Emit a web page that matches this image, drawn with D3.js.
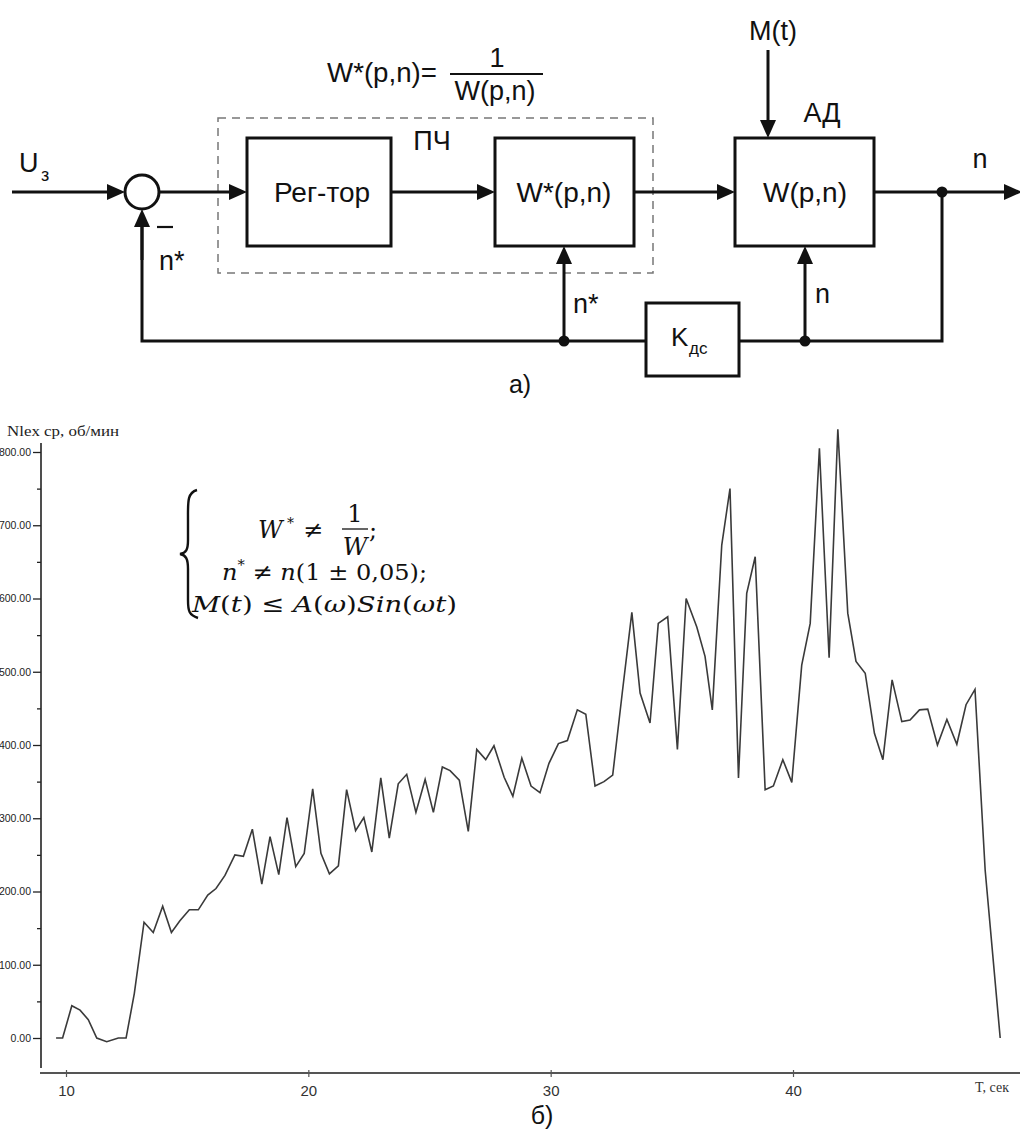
<!DOCTYPE html>
<html>
<head>
<meta charset="utf-8">
<script src="https://cdn.jsdelivr.net/npm/d3@7"></script>
<style>
body { margin: 0; background: #fff; }
svg { display: block; }
.blk text { font-family: "Liberation Sans", Arial, sans-serif; fill: #111; }
.ax text { font-family: "Liberation Sans", Arial, sans-serif; }
</style>
</head>
<body>
<script>
// Chart data: time (s) and mean speed (rpm)
var timeSec = [9.59, 9.86, 10.24, 10.58, 10.92, 11.27, 11.68, 12.16, 12.48, 12.82,
  13.22, 13.60, 13.99, 14.35, 14.70, 15.09, 15.46, 15.85, 16.19, 16.56,
  16.97, 17.32, 17.69, 18.08, 18.42, 18.78, 19.12, 19.48, 19.83, 20.18,
  20.52, 20.87, 21.24, 21.58, 21.95, 22.29, 22.62, 22.99, 23.34, 23.71,
  24.06, 24.44, 24.82, 25.16, 25.53, 25.85, 26.23, 26.60, 26.95, 27.32,
  27.66, 28.08, 28.44, 28.81, 29.19, 29.56, 29.93, 30.32, 30.69, 31.10,
  31.45, 31.83, 32.20, 32.56, 32.95, 33.35, 33.69, 34.10, 34.44, 34.83,
  35.23, 35.59, 36.03, 36.37, 36.67, 37.06, 37.40, 37.75, 38.09, 38.44,
  38.85, 39.19, 39.58, 39.95, 40.36, 40.71, 41.09, 41.49, 41.85, 42.26,
  42.60, 42.98, 43.36, 43.71, 44.09, 44.49, 44.83, 45.22, 45.56, 45.96,
  46.35, 46.76, 47.14, 47.51, 47.93, 48.55];

var speedRpm = [0, 0, 44, 38, 25, 0, -5, 0, 0, 61,
  158, 144, 180, 144, 160, 175, 175, 195, 204, 222,
  250, 248, 285, 210, 275, 223, 301, 234, 252, 340,
  252, 224, 235, 339, 283, 301, 254, 355, 273, 347,
  360, 308, 353, 308, 370, 365, 352, 282, 394, 380,
  399, 356, 330, 382, 344, 335, 375, 402, 406, 448,
  442, 344, 350, 359, 470, 581, 471, 430, 566, 575,
  394, 600, 561, 521, 448, 673, 750, 355, 607, 657,
  339, 344, 380, 349, 509, 566, 805, 519, 831, 580,
  514, 498, 416, 380, 489, 432, 434, 448, 449, 400,
  435, 401, 455, 476, 229, 0];

var yTicks = [0, 100, 200, 300, 400, 500, 600, 700, 800];
var yMinorTicks = [50, 150, 250, 350, 450, 550, 650, 750];
var xTicks = [10, 20, 30, 40];

var svg = d3.select("body").append("svg")
    .attr("width", 1020)
    .attr("height", 1129);

var ink = "#111";

//---------------- block diagram (a) ----------------
var dg = svg.append("g").attr("class", "blk");

function arrow(x1, y1, x2, y2) {
  var dx = x2 - x1, dy = y2 - y1, len = Math.sqrt(dx * dx + dy * dy);
  var ux = dx / len, uy = dy / len, L = 18, H = 8;
  var bx = x2 - ux * L, by = y2 - uy * L;
  dg.append("line")
    .attr("x1", x1).attr("y1", y1).attr("x2", bx + ux).attr("y2", by + uy)
    .attr("stroke", ink).attr("stroke-width", 3);
  dg.append("path")
    .attr("d", "M" + x2 + "," + y2 + "L" + (bx - uy * H) + "," + (by + ux * H) +
               "L" + (bx + uy * H) + "," + (by - ux * H) + "Z")
    .attr("fill", ink);
}
function wire(pts) {
  dg.append("path").attr("d", d3.line()(pts))
    .attr("fill", "none").attr("stroke", ink).attr("stroke-width", 3);
}
function box(x, y, w, h) {
  dg.append("rect").attr("x", x).attr("y", y).attr("width", w).attr("height", h)
    .attr("fill", "#fff").attr("stroke", ink).attr("stroke-width", 3);
}
function dot(x, y) {
  dg.append("circle").attr("cx", x).attr("cy", y).attr("r", 5.5).attr("fill", ink);
}
function label(x, y, s, size, anchor) {
  return dg.append("text").attr("x", x).attr("y", y)
    .attr("font-size", size).attr("text-anchor", anchor || "start").text(s);
}

// dashed frame of the frequency converter
dg.append("rect").attr("x", 218).attr("y", 118).attr("width", 435).attr("height", 155)
  .attr("fill", "none").attr("stroke", "#777").attr("stroke-width", 1.5)
  .attr("stroke-dasharray", "8,6");

// main forward path
arrow(12, 192, 125, 192);
dg.append("circle").attr("cx", 142).attr("cy", 192).attr("r", 17)
  .attr("fill", "#fff").attr("stroke", ink).attr("stroke-width", 3);
arrow(159, 192, 247, 192);
box(247, 138, 144, 108);
arrow(391, 192, 495, 192);
box(495, 138, 139, 108);
arrow(634, 192, 735, 192);
box(735, 138, 139, 108);
arrow(874, 192, 1022, 192);
arrow(768, 50, 768, 138);

// feedback loop
wire([[942, 192], [942, 341], [739, 341]]);
wire([[646, 341], [142, 341], [142, 226]]);
arrow(142, 260, 142, 209);
box(646, 303, 93, 73);
arrow(564, 341, 564, 246);
arrow(805, 341, 805, 246);
dot(942, 192); dot(805, 341); dot(564, 341);

// minus sign at the summing node
dg.append("line").attr("x1", 157).attr("x2", 173).attr("y1", 227).attr("y2", 227)
  .attr("stroke", ink).attr("stroke-width", 2.2);

// labels
label(19, 172, "U", 27);
label(41, 181, "з", 18);
label(322, 202, "Рег-тор", 28, "middle");
label(564, 202, "W*(p,n)", 28, "middle");
label(805, 202, "W(p,n)", 28, "middle");
label(432, 150, "ПЧ", 27, "middle");
label(773, 40, "M(t)", 27, "middle");
label(822, 122, "АД", 27, "middle");
label(980, 168, "n", 27, "middle");
label(815, 303, "n", 27);
label(573, 313, "n*", 27);
label(159, 270, "n*", 27);
label(671, 346, "K", 26);
label(689, 354, "дс", 17);
label(327, 82, "W*(p,n)=", 27).attr("textLength", 110).attr("lengthAdjust", "spacingAndGlyphs");
label(497, 67, "1", 27, "middle");
dg.append("line").attr("x1", 450).attr("x2", 543).attr("y1", 74).attr("y2", 74)
  .attr("stroke", ink).attr("stroke-width", 2);
label(495, 100, "W(p,n)", 27, "middle");
label(520, 393, "a)", 25, "middle");

//---------------- chart (б) ----------------
var xScale = d3.scaleLinear().domain([10, 40]).range([66, 793]);
var yScale = d3.scaleLinear().domain([0, 800]).range([1038, 452]);

var ch = svg.append("g");

// y axis
var yAxis = d3.axisLeft(yScale).tickValues(yTicks).tickSize(8).tickPadding(2)
  .tickFormat(d3.format(".2f"));
var gy = ch.append("g").attr("class", "ax").attr("transform", "translate(41,0)").call(yAxis);
gy.select(".domain").remove();
gy.selectAll("line").attr("stroke", "#222").attr("stroke-width", 1.3);
gy.selectAll("text").attr("font-size", 10.5).attr("fill", "#222");

var gyMinor = ch.append("g").attr("transform", "translate(41,0)")
  .call(d3.axisLeft(yScale).tickValues(yMinorTicks).tickSize(4).tickFormat(""));
gyMinor.select(".domain").remove();
gyMinor.selectAll("line").attr("stroke", "#222").attr("stroke-width", 1.3);

ch.append("line").attr("x1", 41).attr("x2", 41).attr("y1", 443).attr("y2", 1068)
  .attr("stroke", "#222").attr("stroke-width", 1.6);

ch.append("text").attr("x", 7).attr("y", 436)
  .attr("font-family", "'Liberation Serif', 'Times New Roman', serif")
  .attr("font-size", 14).attr("fill", "#222")
  .attr("textLength", 112).attr("lengthAdjust", "spacingAndGlyphs")
  .text("Nlex ср, об/мин");

// x axis
var xAxis = d3.axisBottom(xScale).tickValues(xTicks).tickSize(4).tickPadding(8);
var gx = ch.append("g").attr("class", "ax").attr("transform", "translate(0,1073)").call(xAxis);
gx.select(".domain").remove();
gx.selectAll("line").attr("y1", -3).attr("stroke", "#555").attr("stroke-width", 1.2);
gx.selectAll("text").attr("font-family", "'Liberation Serif', 'Times New Roman', serif")
  .attr("font-size", 15).attr("fill", "#333");

ch.append("line").attr("x1", 40).attr("x2", 1020).attr("y1", 1073).attr("y2", 1073)
  .attr("stroke", "#555").attr("stroke-width", 1.8);

ch.append("text").attr("x", 992).attr("y", 1092).attr("text-anchor", "middle")
  .attr("font-family", "'Liberation Serif', 'Times New Roman', serif")
  .attr("font-size", 14).attr("fill", "#333")
  .text("T, сек");

// data line
var series = timeSec.map(function (t, i) { return [t, speedRpm[i]]; });
var line = d3.line()
  .x(function (d) { return xScale(d[0]); })
  .y(function (d) { return yScale(d[1]); });

ch.append("path").datum(series)
  .attr("d", line)
  .attr("fill", "none")
  .attr("stroke", "#3a3a3a")
  .attr("stroke-width", 1.6)
  .attr("stroke-linejoin", "miter");

ch.append("text").attr("x", 542).attr("y", 1124).attr("text-anchor", "middle")
  .attr("font-family", "'Liberation Sans', Arial, sans-serif")
  .attr("font-size", 25).attr("fill", "#111")
  .text("б)");

//---------------- system of conditions ----------------
var fm = ch.append("g")
  .attr("font-family", "'DejaVu Serif', 'Liberation Serif', serif")
  .attr("fill", "#111");

fm.append("path")
  .attr("d", "M197,490 C187,493 188,502 188,520 L188,540 C188,550 186,553 180,554 " +
             "C186,555 188,559 188,569 L188,600 C188,611 189,615 198,618")
  .attr("fill", "none").attr("stroke", "#111").attr("stroke-width", 2.4);

// row 1
fm.append("text").attr("x", 258).attr("y", 538).attr("font-size", 24)
  .attr("font-style", "italic").text("W");
fm.append("text").attr("x", 287).attr("y", 528).attr("font-size", 14).text("*");
fm.append("text").attr("x", 303).attr("y", 538).attr("font-size", 24).text("≠");
fm.append("text").attr("x", 355).attr("y", 522).attr("font-size", 24)
  .attr("text-anchor", "middle").text("1");
fm.append("line").attr("x1", 342).attr("x2", 368).attr("y1", 529).attr("y2", 529)
  .attr("stroke", "#111").attr("stroke-width", 1.3);
fm.append("text").attr("x", 355).attr("y", 555).attr("font-size", 24)
  .attr("text-anchor", "middle").attr("font-style", "italic").text("W");
fm.append("text").attr("x", 369).attr("y", 538).attr("font-size", 24).text(";");

// row 2
var r2 = fm.append("text").attr("x", 222).attr("y", 580).attr("font-size", 23)
  .attr("textLength", 205).attr("lengthAdjust", "spacingAndGlyphs");
r2.append("tspan").attr("font-style", "italic").text("n");
r2.append("tspan").attr("font-size", 14).attr("dy", -10).text("*");
r2.append("tspan").attr("dy", 10).text(" ≠ ");
r2.append("tspan").attr("font-style", "italic").text("n");
r2.append("tspan").text("(1 ± 0,05);");

// row 3
var r3 = fm.append("text").attr("x", 192).attr("y", 612).attr("font-size", 23)
  .attr("textLength", 265).attr("lengthAdjust", "spacingAndGlyphs");
r3.append("tspan").attr("font-style", "italic").text("M");
r3.append("tspan").text("(");
r3.append("tspan").attr("font-style", "italic").text("t");
r3.append("tspan").text(") ≤ ");
r3.append("tspan").attr("font-style", "italic").text("A");
r3.append("tspan").text("(");
r3.append("tspan").attr("font-style", "italic").text("ω");
r3.append("tspan").text(")");
r3.append("tspan").attr("font-style", "italic").text("Sin");
r3.append("tspan").text("(");
r3.append("tspan").attr("font-style", "italic").text("ωt");
r3.append("tspan").text(")");
</script>
</body>
</html>
